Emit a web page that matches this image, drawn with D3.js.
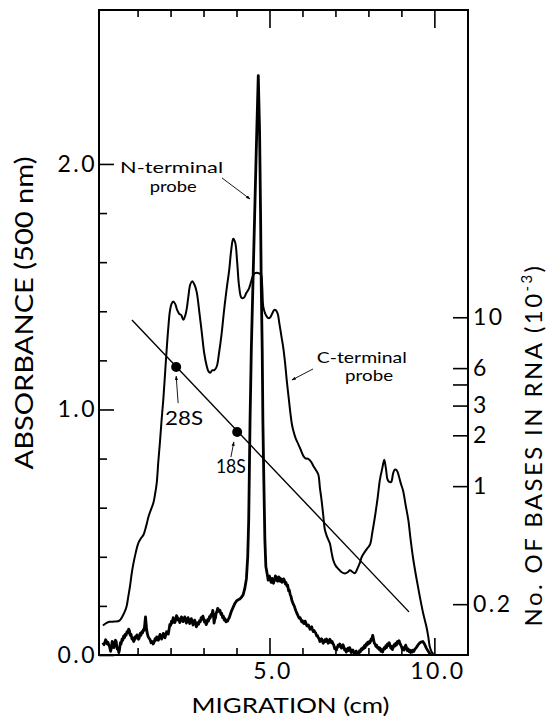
<!DOCTYPE html>
<html>
<head>
<meta charset="UTF-8">
<title>Migration</title>
<style>
  body { margin: 0; background: #fff; }
  text { font-family: Lato, "Liberation Sans", sans-serif; fill: #000; }
</style>
</head>
<body>
<script src="https://cdn.jsdelivr.net/npm/d3@7"></script>
<script>
// migration (cm) vs absorbance, C-terminal probe (smooth trace)
const cTerminal = [
  [-0.05,0.12],[0.05,0.13],[0.15,0.135],[0.3,0.136],[0.45,0.14],[0.55,0.16],[0.62,0.18],[0.67,0.2],
  [0.72,0.24],[0.77,0.28],[0.82,0.33],[0.87,0.37],[0.95,0.42],[1.02,0.455],[1.1,0.475],[1.18,0.49],
  [1.23,0.51],[1.28,0.535],[1.33,0.563],[1.4,0.59],[1.48,0.62],[1.53,0.655],[1.58,0.7],[1.63,0.79],
  [1.68,0.87],[1.73,0.96],[1.78,1.04],[1.83,1.14],[1.88,1.24],[1.93,1.33],[1.98,1.4],[2.03,1.43],
  [2.08,1.44],[2.14,1.43],[2.2,1.405],[2.26,1.39],[2.32,1.385],[2.39,1.365],[2.44,1.38],[2.49,1.41],
  [2.54,1.46],[2.6,1.51],[2.66,1.522],[2.72,1.51],[2.79,1.48],[2.87,1.4],[2.95,1.31],[3.02,1.23],
  [3.1,1.175],[3.15,1.155],[3.2,1.15],[3.27,1.16],[3.33,1.16],[3.4,1.175],[3.47,1.23],[3.55,1.31],
  [3.62,1.4],[3.7,1.49],[3.78,1.57],[3.84,1.65],[3.9,1.695],[3.96,1.68],[4.02,1.6],[4.08,1.5],
  [4.15,1.455],[4.22,1.455],[4.3,1.475],[4.37,1.49],[4.42,1.51],[4.5,1.545],[4.56,1.555],[4.65,1.556],
  [4.74,1.55],[4.78,1.5],[4.81,1.42],[4.87,1.39],[4.92,1.378],[4.97,1.372],[5.02,1.375],[5.08,1.39],
  [5.14,1.405],[5.19,1.405],[5.25,1.39],[5.3,1.35],[5.36,1.3],[5.42,1.25],[5.48,1.18],[5.53,1.11],
  [5.58,1.05],[5.63,0.99],[5.68,0.94],[5.73,0.91],[5.8,0.88],[5.87,0.86],[5.95,0.835],[6.03,0.81],
  [6.1,0.8],[6.16,0.8],[6.21,0.795],[6.27,0.785],[6.33,0.77],[6.4,0.755],[6.48,0.735],[6.53,0.68],
  [6.58,0.63],[6.63,0.57],[6.68,0.51],[6.75,0.48],[6.83,0.455],[6.88,0.42],[6.93,0.388],[7.0,0.365],
  [7.08,0.352],[7.18,0.338],[7.29,0.332],[7.37,0.337],[7.44,0.345],[7.52,0.338],[7.59,0.333],[7.66,0.35],
  [7.74,0.375],[7.8,0.4],[7.89,0.42],[7.97,0.435],[8.05,0.45],[8.12,0.5],[8.2,0.565],[8.28,0.64],
  [8.35,0.715],[8.42,0.76],[8.48,0.795],[8.53,0.76],[8.58,0.715],[8.63,0.705],[8.69,0.705],[8.75,0.74],
  [8.8,0.755],[8.86,0.752],[8.92,0.73],[8.98,0.7],[9.05,0.67],[9.13,0.61],[9.21,0.55],[9.28,0.47],
  [9.36,0.39],[9.46,0.31],[9.56,0.237],[9.66,0.17],[9.76,0.115],[9.82,0.07],[9.86,0.035],[9.92,0.012],
  [9.97,0.004]
];

// N-terminal probe (noisy trace with the sharp peak)
const nTerminal = [
  [-0.05,0.05],[-0.02,0.042],[0.0,0.048],[0.03,0.062],[0.05,0.058],[0.08,0.045],[0.1,0.052],[0.13,0.04],
  [0.15,0.035],[0.18,0.015],[0.2,0.025],[0.23,0.055],[0.25,0.05],[0.28,0.03],[0.3,0.04],[0.33,0.06],
  [0.35,0.055],[0.38,0.025],[0.4,0.03],[0.43,0.01],[0.45,0.02],[0.48,0.05],[0.5,0.045],[0.53,0.065],
  [0.55,0.06],[0.58,0.078],[0.6,0.07],[0.63,0.085],[0.65,0.08],[0.68,0.095],[0.7,0.09],[0.73,0.105],
  [0.75,0.1],[0.78,0.08],[0.8,0.085],[0.83,0.065],[0.85,0.07],[0.88,0.055],[0.9,0.06],[0.93,0.075],
  [0.95,0.068],[0.98,0.082],[1.0,0.075],[1.03,0.064],[1.05,0.07],[1.08,0.088],[1.1,0.08],[1.13,0.095],
  [1.15,0.09],[1.18,0.104],[1.2,0.1],[1.24,0.155],[1.27,0.11],[1.29,0.09],[1.32,0.075],[1.35,0.068],
  [1.38,0.062],[1.41,0.05],[1.44,0.055],[1.47,0.045],[1.5,0.052],[1.53,0.066],[1.55,0.06],[1.58,0.074],
  [1.6,0.07],[1.63,0.06],[1.65,0.068],[1.68,0.084],[1.7,0.078],[1.73,0.065],[1.75,0.072],[1.78,0.088],
  [1.8,0.082],[1.83,0.07],[1.85,0.08],[1.88,0.095],[1.9,0.09],[1.93,0.085],[1.95,0.1],[1.98,0.125],
  [2.0,0.12],[2.03,0.138],[2.05,0.13],[2.08,0.152],[2.1,0.145],[2.13,0.132],[2.15,0.14],[2.18,0.16],
  [2.2,0.155],[2.23,0.142],[2.25,0.148],[2.28,0.132],[2.3,0.14],[2.33,0.155],[2.35,0.15],[2.38,0.136],
  [2.4,0.142],[2.43,0.155],[2.45,0.148],[2.48,0.13],[2.5,0.138],[2.53,0.152],[2.55,0.145],[2.58,0.128],
  [2.6,0.135],[2.63,0.148],[2.65,0.14],[2.68,0.122],[2.7,0.128],[2.73,0.142],[2.75,0.135],[2.78,0.115],
  [2.8,0.12],[2.83,0.132],[2.85,0.125],[2.88,0.14],[2.9,0.135],[2.93,0.152],[2.95,0.145],[2.98,0.158],
  [3.0,0.15],[3.03,0.134],[3.05,0.14],[3.08,0.124],[3.1,0.13],[3.13,0.145],[3.15,0.138],[3.18,0.156],
  [3.2,0.15],[3.23,0.165],[3.25,0.16],[3.28,0.182],[3.3,0.165],[3.32,0.13],[3.34,0.145],[3.36,0.15],
  [3.38,0.168],[3.4,0.175],[3.43,0.19],[3.45,0.185],[3.48,0.176],[3.5,0.182],[3.53,0.165],[3.55,0.17],
  [3.58,0.152],[3.6,0.158],[3.63,0.142],[3.65,0.148],[3.68,0.135],[3.7,0.14],[3.73,0.138],[3.75,0.145],
  [3.78,0.152],[3.8,0.16],[3.85,0.18],[3.9,0.195],[3.95,0.21],[4.0,0.22],[4.05,0.225],[4.1,0.228],
  [4.15,0.235],[4.2,0.245],[4.25,0.27],[4.3,0.31],[4.34,0.4],[4.37,0.55],[4.39,0.75],[4.41,0.95],
  [4.45,1.25],[4.5,1.52],[4.55,1.79],[4.6,2.06],[4.66,2.36],[4.7,2.13],[4.73,1.79],[4.75,1.51],
  [4.78,1.24],[4.8,0.95],[4.83,0.7],[4.86,0.47],[4.89,0.36],[4.93,0.33],[4.96,0.305],[4.98,0.315],
  [5.0,0.322],[5.02,0.31],[5.05,0.296],[5.08,0.312],[5.1,0.305],[5.12,0.292],[5.14,0.3],[5.16,0.31],
  [5.18,0.322],[5.2,0.318],[5.22,0.304],[5.25,0.3],[5.28,0.318],[5.3,0.315],[5.33,0.3],[5.35,0.31],
  [5.38,0.296],[5.4,0.3],[5.43,0.31],[5.45,0.305],[5.48,0.29],[5.5,0.295],[5.53,0.28],[5.55,0.285],
  [5.58,0.262],[5.6,0.265],[5.63,0.245],[5.65,0.24],[5.68,0.222],[5.7,0.215],[5.73,0.205],[5.75,0.2],
  [5.78,0.188],[5.8,0.18],[5.83,0.17],[5.85,0.165],[5.88,0.155],[5.9,0.15],[5.93,0.152],[5.95,0.145],
  [5.98,0.135],[6.0,0.14],[6.03,0.13],[6.05,0.128],[6.08,0.138],[6.1,0.132],[6.13,0.12],[6.15,0.118],
  [6.18,0.122],[6.2,0.115],[6.23,0.105],[6.25,0.11],[6.28,0.115],[6.3,0.105],[6.33,0.095],[6.35,0.1],
  [6.38,0.092],[6.4,0.09],[6.43,0.078],[6.45,0.08],[6.48,0.07],[6.5,0.068],[6.53,0.055],[6.55,0.06],
  [6.58,0.066],[6.6,0.058],[6.63,0.048],[6.65,0.052],[6.68,0.062],[6.7,0.055],[6.73,0.065],[6.75,0.06],
  [6.78,0.048],[6.8,0.05],[6.83,0.064],[6.85,0.06],[6.88,0.05],[6.9,0.055],[6.93,0.045],[6.95,0.04],
  [6.98,0.025],[7.0,0.03],[7.03,0.02],[7.05,0.028],[7.08,0.04],[7.1,0.035],[7.13,0.045],[7.15,0.04],
  [7.18,0.028],[7.2,0.032],[7.23,0.042],[7.25,0.035],[7.28,0.02],[7.3,0.025],[7.33,0.012],[7.35,0.02],
  [7.38,0.028],[7.4,0.018],[7.43,0.03],[7.45,0.025],[7.48,0.01],[7.5,0.015],[7.53,0.02],[7.55,0.012],
  [7.58,0.004],[7.6,0.01],[7.63,0.016],[7.65,0.008],[7.68,0.002],[7.7,0.006],[7.73,0.018],[7.75,0.012],
  [7.78,0.025],[7.8,0.02],[7.83,0.03],[7.85,0.025],[7.88,0.038],[7.9,0.03],[7.93,0.045],[7.95,0.04],
  [7.98,0.052],[8.0,0.045],[8.03,0.055],[8.05,0.05],[8.08,0.065],[8.1,0.06],[8.13,0.08],[8.16,0.06],
  [8.18,0.048],[8.2,0.045],[8.23,0.035],[8.25,0.04],[8.28,0.028],[8.3,0.032],[8.33,0.022],[8.35,0.028],
  [8.38,0.015],[8.4,0.022],[8.43,0.012],[8.45,0.02],[8.48,0.03],[8.5,0.025],[8.53,0.038],[8.55,0.03],
  [8.58,0.045],[8.6,0.038],[8.63,0.05],[8.65,0.042],[8.68,0.028],[8.7,0.035],[8.73,0.022],[8.75,0.03],
  [8.78,0.042],[8.8,0.036],[8.83,0.048],[8.85,0.04],[8.88,0.055],[8.9,0.048],[8.93,0.058],[8.95,0.05],
  [8.98,0.04],[9.0,0.035],[9.03,0.022],[9.05,0.03],[9.08,0.02],[9.1,0.028],[9.13,0.04],[9.15,0.032],
  [9.18,0.018],[9.2,0.025],[9.23,0.014],[9.25,0.02],[9.28,0.01],[9.3,0.018],[9.33,0.012],[9.35,0.02],
  [9.38,0.015],[9.4,0.022],[9.45,0.03],[9.5,0.04],[9.55,0.048],[9.6,0.053],[9.65,0.055],[9.7,0.045],
  [9.75,0.03],[9.8,0.018],[9.85,0.008],[9.9,0.003]
];

// size standard line: migration (cm) vs no. of bases (x 10^-3)
const sizeLine = [[0.83, 9.62], [9.23, 0.18]];
const markers = [
  { name: "28S", cm: 2.17, bases: 5.07 },
  { name: "18S", cm: 4.02, bases: 2.09 }
];

// axis ticks
const xMinorTicks = [1, 2, 3, 4, 6, 7, 8, 9];
const xMajorTicks = [5, 10];
const yMinorTicks = [0.2, 0.4, 0.6, 0.8, 1.2, 1.4, 1.6, 1.8];
const yMajorTicks = [0, 1, 2];
const rightTickValues = [10, 5, 4, 3, 2, 1, 0.2];
const rightTickLabels = ["10", "6", "", "3", "2", "1", "0.2"];

const width = 550, height = 720;
const margin = { top: 10, right: 82, bottom: 65, left: 99 };

const svg = d3.select("body").append("svg")
  .attr("width", width)
  .attr("height", height);

const x = d3.scaleLinear().domain([-0.17, 11.02]).range([margin.left, width - margin.right]);
const y = d3.scaleLinear().domain([0, 2.627]).range([height - margin.bottom, margin.top]);
const yRight = d3.scaleLog().domain([0.1, 660]).range([height - margin.bottom, margin.top]);

// arrowhead
svg.append("defs").append("marker")
  .attr("id", "arrow")
  .attr("viewBox", "0 0 10 10")
  .attr("refX", 9).attr("refY", 5)
  .attr("markerWidth", 5).attr("markerHeight", 5)
  .attr("orient", "auto")
  .append("path")
  .attr("d", "M0,1.5 L10,5 L0,8.5 z")
  .attr("fill", "#000");

const bottomY = height - margin.bottom;
const rightX = width - margin.right;

function styleAxis(g) {
  g.select(".domain").remove();
  g.selectAll(".tick line").attr("stroke", "#000").attr("stroke-width", 1.6);
  g.selectAll("text").attr("font-size", 23).attr("letter-spacing", 2.5)
    .attr("font-family", "Lato, sans-serif").attr("fill", "#000");
}

// bottom axis (ticks pointing in)
svg.append("g").attr("transform", `translate(0,${bottomY})`)
  .call(d3.axisBottom(x).tickValues(xMinorTicks).tickSize(-7).tickFormat(""))
  .call(styleAxis);
svg.append("g").attr("transform", `translate(0,${bottomY})`)
  .call(d3.axisBottom(x).tickValues(xMajorTicks).tickSize(-17).tickPadding(8).tickFormat(d3.format(".1f")))
  .call(styleAxis)
  .selectAll("text").attr("dx", 3);

// top axis
svg.append("g").attr("transform", `translate(0,${margin.top})`)
  .call(d3.axisTop(x).tickValues(xMinorTicks).tickSize(-7).tickFormat(""))
  .call(styleAxis);
svg.append("g").attr("transform", `translate(0,${margin.top})`)
  .call(d3.axisTop(x).tickValues(xMajorTicks).tickSize(-18).tickFormat(""))
  .call(styleAxis);

// left axis
svg.append("g").attr("transform", `translate(${margin.left},0)`)
  .call(d3.axisLeft(y).tickValues(yMinorTicks).tickSize(-8).tickFormat(""))
  .call(styleAxis);
svg.append("g").attr("transform", `translate(${margin.left},0)`)
  .call(d3.axisLeft(y).tickValues(yMajorTicks).tickSize(-15).tickPadding(2).tickFormat(d3.format(".1f")))
  .call(styleAxis);

// right axis (log, no. of bases)
svg.append("g").attr("transform", `translate(${rightX},0)`)
  .call(d3.axisRight(yRight).tickValues(rightTickValues).tickSize(-15).tickPadding(5)
    .tickFormat((d, i) => rightTickLabels[i]))
  .call(styleAxis);

// frame
svg.append("rect")
  .attr("x", margin.left).attr("y", margin.top)
  .attr("width", rightX - margin.left).attr("height", bottomY - margin.top)
  .attr("fill", "none").attr("stroke", "#000").attr("stroke-width", 2);

// traces
svg.append("path").datum(cTerminal)
  .attr("d", d3.line().curve(d3.curveCatmullRom).x(d => x(d[0])).y(d => y(d[1])))
  .attr("fill", "none").attr("stroke", "#000").attr("stroke-width", 2);

svg.append("path").datum(nTerminal)
  .attr("d", d3.line().x(d => x(d[0])).y(d => y(d[1])))
  .attr("fill", "none").attr("stroke", "#000").attr("stroke-width", 2.8)
  .attr("stroke-linejoin", "round");

// size standard line and markers
svg.append("path").datum(sizeLine)
  .attr("d", d3.line().x(d => x(d[0])).y(d => yRight(d[1])))
  .attr("fill", "none").attr("stroke", "#000").attr("stroke-width", 1.4);

svg.selectAll(".marker").data(markers).enter().append("circle")
  .attr("class", "marker")
  .attr("cx", d => x(d.cm)).attr("cy", d => yRight(d.bases))
  .attr("r", 5).attr("fill", "#000");

// annotations (placed in data units)
const labels = [
  { t: "N-terminal", cm: 2.03, a: 1.962, size: 15, len: 103 },
  { t: "probe", cm: 2.08, a: 1.887, size: 15, len: 47 },
  { t: "C-terminal", cm: 7.80, a: 1.19, size: 15, len: 90 },
  { t: "probe", cm: 8.02, a: 1.115, size: 15, len: 48 },
  { t: "28S", cm: 2.41, a: 0.937, size: 19, len: 38 },
  { t: "18S", cm: 3.83, a: 0.741, size: 19, len: 30 }
];
svg.selectAll(".ann").data(labels).enter().append("text")
  .attr("class", "ann")
  .attr("x", d => x(d.cm)).attr("y", d => y(d.a))
  .attr("text-anchor", "middle")
  .attr("font-size", d => d.size)
  .attr("textLength", d => d.len).attr("lengthAdjust", "spacingAndGlyphs")
  .text(d => d.t);

const arrows = [
  [[3.56, 1.943], [4.41, 1.857]],
  [[6.32, 1.165], [5.68, 1.12]],
  [[2.23, 1.026], [2.17, 1.136]],
  [[3.83, 0.806], [3.92, 0.868]]
];
svg.selectAll(".arr").data(arrows).enter().append("path")
  .attr("class", "arr")
  .attr("d", d3.line().x(d => x(d[0])).y(d => y(d[1])))
  .attr("stroke", "#000").attr("stroke-width", 0.9)
  .attr("marker-end", "url(#arrow)");

// axis titles
svg.append("text")
  .attr("transform", "translate(33,313) rotate(-90)")
  .attr("text-anchor", "middle")
  .attr("font-size", 25)
  .attr("textLength", 313).attr("lengthAdjust", "spacingAndGlyphs")
  .text("ABSORBANCE (500 nm)");

svg.append("text")
  .attr("x", (margin.left + rightX) / 2 + 7).attr("y", 713)
  .attr("text-anchor", "middle")
  .attr("font-size", 22)
  .attr("textLength", 198).attr("lengthAdjust", "spacingAndGlyphs")
  .text("MIGRATION (cm)");

const rt = svg.append("text")
  .attr("transform", "translate(542,445) rotate(-90)")
  .attr("text-anchor", "middle")
  .attr("font-size", 24)
  .attr("letter-spacing", 2.4);
rt.append("tspan").text("No. OF BASES IN RNA (10");
rt.append("tspan").attr("font-size", 15).attr("dy", -10).text("-3");
rt.append("tspan").attr("dy", 10).text(")");
</script>
</body>
</html>
